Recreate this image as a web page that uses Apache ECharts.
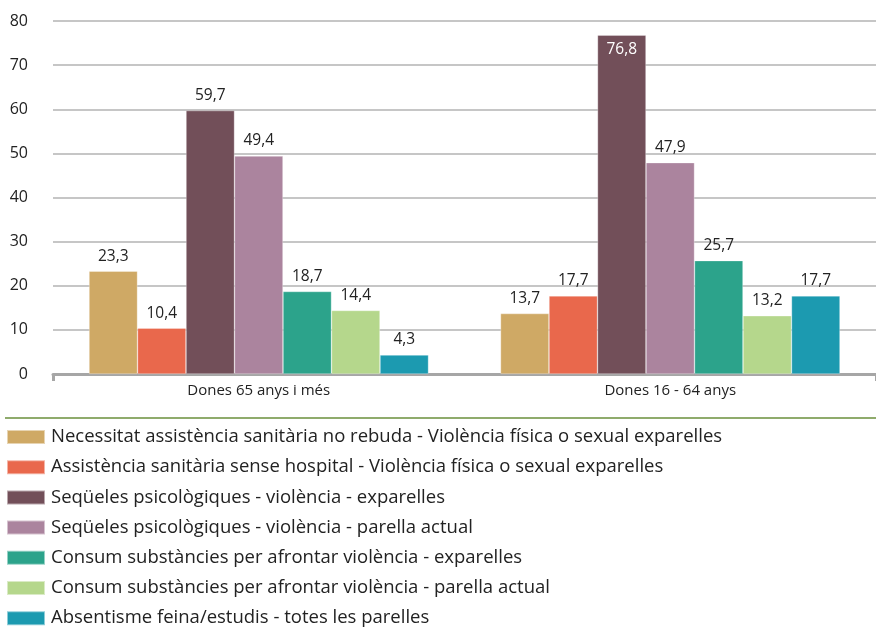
<!DOCTYPE html>
<html>
<head>
<meta charset="utf-8">
<script src="https://cdn.jsdelivr.net/npm/echarts@6/dist/echarts.min.js"></script>
<style>
html,body{margin:0;padding:0;background:#fff;}
#chart{width:876px;height:627px;}
</style>
</head>
<body>
<div id="chart"></div>
<script>
const categories = ['Dones 65 anys i més', 'Dones 16 - 64 anys'];
const seriesNames = [
  'Necessitat assistència sanitària no rebuda - Violència física o sexual exparelles',
  'Assistència sanitària sense hospital - Violència física o sexual exparelles',
  'Seqüeles psicològiques - violència - exparelles',
  'Seqüeles psicològiques - violència - parella actual',
  'Consum substàncies per afrontar violència - exparelles',
  'Consum substàncies per afrontar violència - parella actual',
  'Absentisme feina/estudis - totes les parelles'
];
const necessitat = [23.3, 13.7];
const assistencia = [10.4, 17.7];
const sequelesEx = [59.7, 76.8];
const sequelesActual = [49.4, 47.9];
const consumEx = [18.7, 25.7];
const consumActual = [14.4, 13.2];
const absentisme = [4.3, 17.7];
const yTicks = [0, 10, 20, 30, 40, 50, 60, 70, 80];

const seriesValues = [necessitat, assistencia, sequelesEx, sequelesActual, consumEx, consumActual, absentisme];
const colors = ['#cfa965', '#e9684c', '#724f59', '#ab849e', '#2ca38b', '#b5d78c', '#1c9ab0'];
const FONT = 'Open Sans';

const chart = echarts.init(document.getElementById('chart'));
const series = seriesNames.map((name, i) => ({
  name: name,
  type: 'bar',
  data: seriesValues[i].map((v) => {
    const item = { value: v };
    if (v > 70) {
      item.label = { position: 'insideTop', color: '#ffffff', distance: 6 };
    }
    return item;
  }),
  barWidth: 48.5,
  barGap: '0%',
  itemStyle: { color: colors[i], borderColor: 'rgba(255,255,255,0.5)', borderWidth: 0.6 },
  label: {
    show: true,
    position: 'top',
    distance: 7,
    fontFamily: FONT,
    fontSize: 15.5,
    color: '#222222',
    formatter: (p) => String(p.value).replace('.', ',')
  }
}));

chart.setOption({
  animation: false,
  color: colors,
  grid: { left: 53, right: -4, top: 21, bottom: 253, containLabel: false },
  legend: {
    orient: 'vertical',
    left: 6,
    top: 427,
    height: 210,
    padding: 0,
    itemWidth: 38,
    itemHeight: 14,
    itemGap: 10.2,
    icon: 'rect',
    selectedMode: false,
    textStyle: { fontFamily: FONT, fontSize: 18.5, color: '#222222', lineHeight: 20, padding: [0, 0, 0, 1] },
    data: seriesNames
  },
  xAxis: {
    type: 'category',
    data: categories,
    axisLine: { show: true, lineStyle: { color: '#a6a6a6', width: 3 } },
    axisTick: { show: true, length: 7, lineStyle: { color: '#a6a6a6', width: 3 }, interval: (idx) => idx === 0 },
    axisLabel: { fontFamily: FONT, fontSize: 15, color: '#222222', margin: 9 }
  },
  yAxis: {
    type: 'value',
    min: yTicks[0],
    max: yTicks[yTicks.length - 1],
    interval: 10,
    axisLine: { show: false },
    axisTick: { show: false },
    axisLabel: { fontFamily: FONT, fontSize: 16, color: '#222222', margin: 25 },
    splitLine: { lineStyle: { color: '#b3b3b3', width: 1.5 } }
  },
  graphic: [{
    type: 'line',
    shape: { x1: 5, y1: 418, x2: 876, y2: 418 },
    style: { stroke: '#8fab6c', lineWidth: 2 }
  }],
  series: series
});
</script>
</body>
</html>
